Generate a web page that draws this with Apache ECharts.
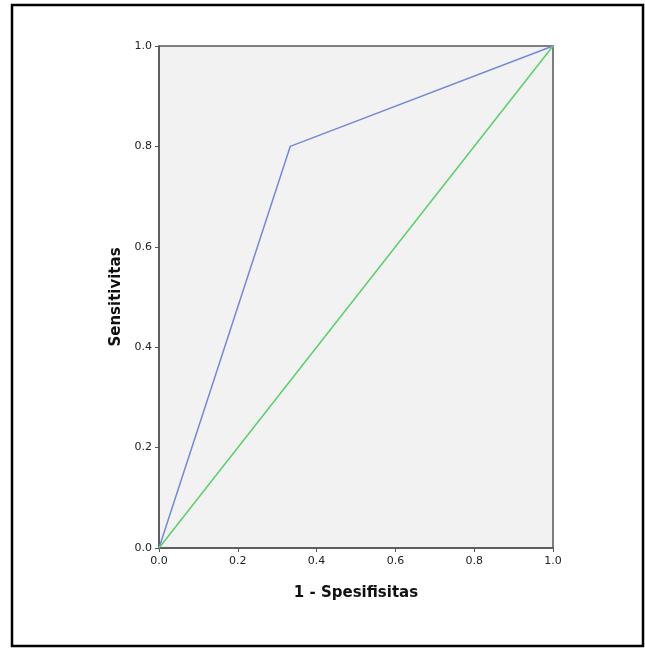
<!DOCTYPE html>
<html>
<head>
<meta charset="utf-8">
<script src="https://cdn.jsdelivr.net/npm/echarts@6/dist/echarts.min.js"></script>
<style>
  html, body { margin: 0; padding: 0; background: #fff; }
  #roc { width: 645px; height: 648px; }
</style>
</head>
<body>
<div id="roc"></div>
<script>
// ROC curve data
let rocX = [0, 0.333, 1];
let rocY = [0, 0.8, 1];
let refX = [0, 1];
let refY = [0, 1];

function pairs(xs, ys) {
  return xs.map((x, i) => [x, ys[i]]);
}

let rocChart = echarts.init(document.getElementById('roc'));
let labelStyle = {
  color: '#222',
  fontSize: 11,
  fontFamily: 'DejaVu Sans',
  formatter: v => v.toFixed(1)
};
let rocOption = {
  animation: false,
  backgroundColor: '#fff',
  graphic: [{
    type: 'rect',
    shape: { x: 12, y: 5, width: 631, height: 641 },
    style: { fill: 'none', stroke: '#000', lineWidth: 2.5 },
    z: 100
  }],
  grid: {
    left: 159, top: 46, width: 394, height: 502,
    show: true,
    backgroundColor: '#f2f2f2',
    borderColor: '#555',
    borderWidth: 1.5
  },
  xAxis: {
    type: 'value',
    min: 0, max: 1, interval: 0.2,
    name: '1 - Spesifisitas',
    nameLocation: 'middle',
    nameGap: 38,
    nameTextStyle: { fontSize: 15, fontWeight: 'bold', color: '#111', fontFamily: 'DejaVu Sans' },
    axisLine: { lineStyle: { color: '#555', width: 1.5 } },
    axisTick: { show: true, length: 4, lineStyle: { color: '#555' } },
    axisLabel: Object.assign({ margin: 8 }, labelStyle),
    splitLine: { show: false }
  },
  yAxis: {
    type: 'value',
    min: 0, max: 1, interval: 0.2,
    name: 'Sensitivitas',
    nameLocation: 'middle',
    nameGap: 33,
    nameRotate: 90,
    nameTextStyle: { fontSize: 15, fontWeight: 'bold', color: '#111', fontFamily: 'DejaVu Sans' },
    axisLine: { show: true, lineStyle: { color: '#555', width: 1.5 } },
    axisTick: { show: true, length: 4, lineStyle: { color: '#555' } },
    axisLabel: Object.assign({ margin: 7 }, labelStyle),
    splitLine: { show: false }
  },
  series: [
    {
      name: 'ROC',
      type: 'line',
      data: pairs(rocX, rocY),
      symbol: 'none',
      lineStyle: { color: '#7489d6', width: 1.5 }
    },
    {
      name: 'Reference',
      type: 'line',
      data: pairs(refX, refY),
      symbol: 'none',
      lineStyle: { color: '#5ccf6c', width: 1.5 }
    }
  ]
};
rocChart.setOption(rocOption);
</script>
</body>
</html>
